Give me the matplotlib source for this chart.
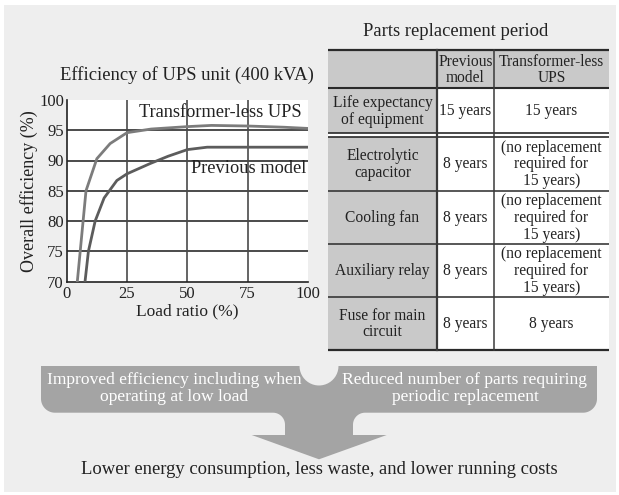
import numpy as np
import matplotlib
matplotlib.use("Agg")
import matplotlib.pyplot as plt
from matplotlib.path import Path
from matplotlib.patches import PathPatch, Rectangle

plt.rcParams['font.family'] = ['Liberation Serif', 'DejaVu Serif']

# ---------------- data ----------------
tl_load = [4.4, 8.0, 12.5, 18.0, 25.0, 35.0, 50.0, 60.0, 75.0, 90.0, 100.0]
tl_eff = [70.0, 85.0, 90.3, 92.8, 94.6, 95.2, 95.6, 95.8, 95.7, 95.5, 95.3]
prev_load = [7.6, 9.0, 11.8, 15.5, 20.8, 25.0, 34.6, 42.0, 50.0, 58.2, 75.0, 100.0]
prev_eff = [70.0, 75.0, 80.0, 83.8, 86.7, 87.8, 89.5, 90.7, 91.8, 92.2, 92.2, 92.2]
x_ticks = [0, 25, 50, 75, 100]
y_ticks = [70, 75, 80, 85, 90, 95, 100]

chart_title = "Efficiency of UPS unit (400 kVA)"
x_label = "Load ratio (%)"
y_label = "Overall efficiency (%)"
series_labels = ["Transformer-less UPS", "Previous model"]

table_title = "Parts replacement period"
table_header = ["", "Previous\nmodel", "Transformer-less\nUPS"]
table_parts = ["Life expectancy\nof equipment", "Electrolytic\ncapacitor", "Cooling fan",
               "Auxiliary relay", "Fuse for main\ncircuit"]
table_prev = ["15 years", "8 years", "8 years", "8 years", "8 years"]
table_tl = ["15 years", "(no replacement\nrequired for\n15 years)",
            "(no replacement\nrequired for\n15 years)",
            "(no replacement\nrequired for\n15 years)", "8 years"]

banner_left = "Improved efficiency including when\noperating at low load"
banner_right = "Reduced number of parts requiring\nperiodic replacement"
conclusion = "Lower energy consumption, less waste, and lower running costs"

# ---------------- figure ----------------
W, H = 619, 495
fig = plt.figure(figsize=(W / 100, H / 100), dpi=100)
fig.patch.set_facecolor("white")

bg = fig.add_axes([0, 0, 1, 1])
bg.set_xlim(0, W)
bg.set_ylim(H, 0)
bg.axis("off")
bg.add_patch(Rectangle((4, 4.5), 612, 487, facecolor="#eeeeee", edgecolor="none", zorder=0))

ink = "#222222"

# ---------------- line chart ----------------
L, R, T, B = 66.7, 308.0, 100.0, 281.5
ax = fig.add_axes([L / W, 1 - B / H, (R - L) / W, (B - T) / H])
ax.set_facecolor("white")
ax.set_xlim(0, 100)
ax.set_ylim(70, 100)
ax.set_xticks(x_ticks)
ax.set_yticks(y_ticks)
for yv in y_ticks[1:-1]:
    ax.axhline(yv, color="#1a1a1a", lw=1.1, zorder=1)
for xv in x_ticks[1:-1]:
    ax.axvline(xv, color="#4a4a4a", lw=1.2, zorder=1)
ax.plot(tl_load, tl_eff, color="#7c7c7c", lw=2.0, zorder=3, solid_joinstyle="round")
ax.plot(prev_load, prev_eff, color="#5c5c5c", lw=2.0, zorder=3, solid_joinstyle="round")
for s in ["top", "right"]:
    ax.spines[s].set_visible(False)
for s in ["left", "bottom"]:
    ax.spines[s].set_color(ink)
    ax.spines[s].set_linewidth(1.2)
ax.tick_params(length=0, labelsize=12, colors=ink, pad=3)
ax.tick_params(axis="y", pad=2)
ax.set_xlabel(x_label, fontsize=12.5, color=ink, labelpad=1)
ax.set_ylabel(y_label, fontsize=13, color=ink, labelpad=1)
ax.text(63.5, 98.0, series_labels[0], fontsize=13.2, color=ink, ha="center", va="center",
        zorder=4)
ax.text(75.3, 88.7, series_labels[1], fontsize=13.2, color=ink, ha="center", va="center",
        zorder=4)
bg.text(187, 75, chart_title, fontsize=13.4, color=ink, ha="center", va="center")

# ---------------- table ----------------
cols = [328, 437, 494, 609]
rows = [50, 88, 132.5, 136.5, 190.5, 243.5, 296.5, 349.5]
gray = "#c9c9c9"
line = "#2a2a2a"
bg.text(456, 32, table_title, fontsize=13.4, color=ink, ha="center", va="center")

spans = [(rows[1], rows[2]), (rows[3], rows[4]), (rows[4], rows[5]), (rows[5], rows[6]),
         (rows[6], rows[7])]
# fills
bg.add_patch(Rectangle((cols[0], rows[0]), cols[3] - cols[0], rows[1] - rows[0],
                       facecolor=gray, edgecolor="none", zorder=1))
bg.add_patch(Rectangle((cols[1], rows[1]), cols[3] - cols[1], rows[7] - rows[1],
                       facecolor="white", edgecolor="none", zorder=1))
bg.add_patch(Rectangle((cols[0], rows[1]), cols[1] - cols[0], rows[7] - rows[1],
                       facecolor=gray, edgecolor="none", zorder=1))
bg.add_patch(Rectangle((cols[0], rows[2]), cols[3] - cols[0], rows[3] - rows[2],
                       facecolor="white", edgecolor="none", zorder=1))

tfs = 11.2
ls = 1.08
for j in (1, 2):
    bg.text((cols[j] + cols[j + 1]) / 2, (rows[0] + rows[1]) / 2 + 1, table_header[j],
            fontsize=tfs, color=ink, ha="center", va="center", linespacing=ls, zorder=3)
for i, (y0, y1) in enumerate(spans):
    yc = (y0 + y1) / 2 + 1
    bg.text((cols[0] + cols[1]) / 2, yc, table_parts[i], fontsize=tfs, color=ink,
            ha="center", va="center", linespacing=ls, zorder=3)
    bg.text((cols[1] + cols[2]) / 2, yc, table_prev[i], fontsize=tfs, color=ink,
            ha="center", va="center", linespacing=ls, zorder=3)
    bg.text((cols[2] + cols[3]) / 2, yc, table_tl[i], fontsize=tfs, color=ink,
            ha="center", va="center", linespacing=ls, zorder=3)

# lines
hl = [(rows[0], 1.6), (rows[1], 1.5), (rows[2], 1.2), (rows[3], 1.2), (rows[4], 1.1),
      (rows[5], 1.1), (rows[6], 1.1), (rows[7], 1.6)]
for yv, lw in hl:
    bg.plot([cols[0], cols[3]], [yv, yv], color=line, lw=lw, zorder=4, solid_capstyle="butt")
bg.plot([cols[1], cols[1]], [rows[0], rows[7]], color="#3a3a3a", lw=1.6, zorder=4)
bg.plot([cols[2], cols[2]], [rows[0], rows[7]], color="#3a3a3a", lw=1.1, zorder=4)

# ---------------- bottom arrow shape ----------------
def arc(cx, cy, r, a0, a1, n=20):
    a = np.linspace(np.radians(a0), np.radians(a1), n)
    return list(zip(cx + r * np.cos(a), cy + r * np.sin(a)))

bl, br, bt, bb = 41, 597, 366, 412.7
rc = 14
nx, nr = 319, 19.5
sl, sr, sb = 285, 353, 435
fr = 12
hl_, hr_, tip = 251.7, 386.7, 459.3

pts = [(bl, bt), (nx - nr, bt)]
pts += arc(nx, bt, nr, 180, 0, 24)
pts += [(br, bt), (br, bb - rc)]
pts += arc(br - rc, bb - rc, rc, 0, 90)
pts += [(sr + fr, bb)]
pts += arc(sr + fr, bb + fr, fr, 270, 180)
pts += [(sr, sb), (hr_, sb), (nx, tip), (hl_, sb), (sl, sb)]
pts += arc(sl - fr, bb + fr, fr, 0, -90)
pts += [(bl + rc, bb)]
pts += arc(bl + rc, bb - rc, rc, 90, 180)
pts += [(bl, bt)]
shape = PathPatch(Path(pts, closed=True), facecolor="#a4a4a4", edgecolor="none", zorder=2)
bg.add_patch(shape)

bg.text(174, 388.5, banner_left, fontsize=12.6, color="white", ha="center", va="center",
        linespacing=1.12, zorder=3)
bg.text(465, 388.5, banner_right, fontsize=12.6, color="white", ha="center", va="center",
        linespacing=1.12, zorder=3)
bg.text(319, 470, conclusion, fontsize=13.4, color=ink, ha="center", va="center", zorder=3)

fig.savefig("out.png", dpi=100, facecolor="white")
